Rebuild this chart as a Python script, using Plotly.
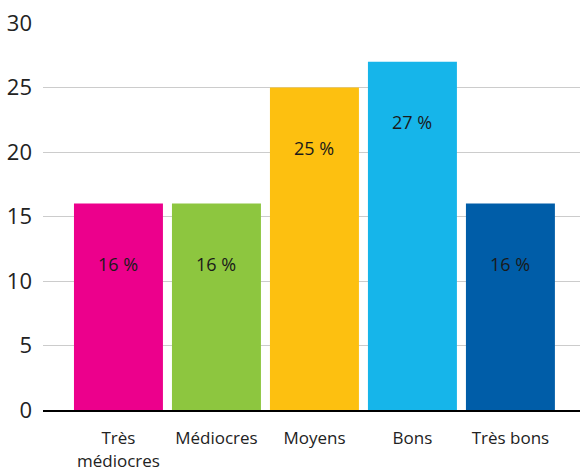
import plotly.graph_objects as go

categories = ["Très<br>médiocres", "Médiocres", "Moyens", "Bons", "Très bons"]
values = [16, 16, 25, 27, 16]
colors = ["#EC008C", "#8DC63F", "#FDC010", "#16B5EA", "#005DA8"]
y_ticks = [0, 5, 10, 15, 20, 25, 30]

font_family = "Open Sans, Noto Sans, sans-serif"

fig = go.Figure()
fig.add_trace(go.Bar(
    x=list(range(len(categories))),
    y=values,
    marker=dict(color=colors, line=dict(width=0)),
    width=0.908,
    hoverinfo="skip",
))

# value labels placed a fixed distance below each bar's top
for i, v in enumerate(values):
    fig.add_annotation(
        x=i, y=v, text=f"{v} %", showarrow=False,
        yanchor="middle", yshift=-60,
        font=dict(family=font_family, size=18, color="#1a1a1a"),
    )

fig.update_layout(
    width=580, height=472,
    margin=dict(l=43, r=0, t=23, b=62),
    paper_bgcolor="white", plot_bgcolor="white",
    showlegend=False,
    font=dict(family=font_family, color="#222222"),
    xaxis=dict(
        range=[-0.77, 4.71],
        tickmode="array",
        tickvals=list(range(len(categories))),
        ticktext=categories,
        tickfont=dict(size=17, color="#222222"),
        showgrid=False, zeroline=False,
        showline=True, linecolor="#000000", linewidth=2,
        ticks="", ticklabelstandoff=12,
    ),
    yaxis=dict(
        range=[0, 30],
        tickvals=y_ticks,
        tickfont=dict(size=22, color="#222222"),
        showgrid=True, gridcolor="#cccccc", gridwidth=1,
        zeroline=False, showline=False,
        ticks="", ticklabelstandoff=10,
    ),
)

fig.write_html("out.html")
